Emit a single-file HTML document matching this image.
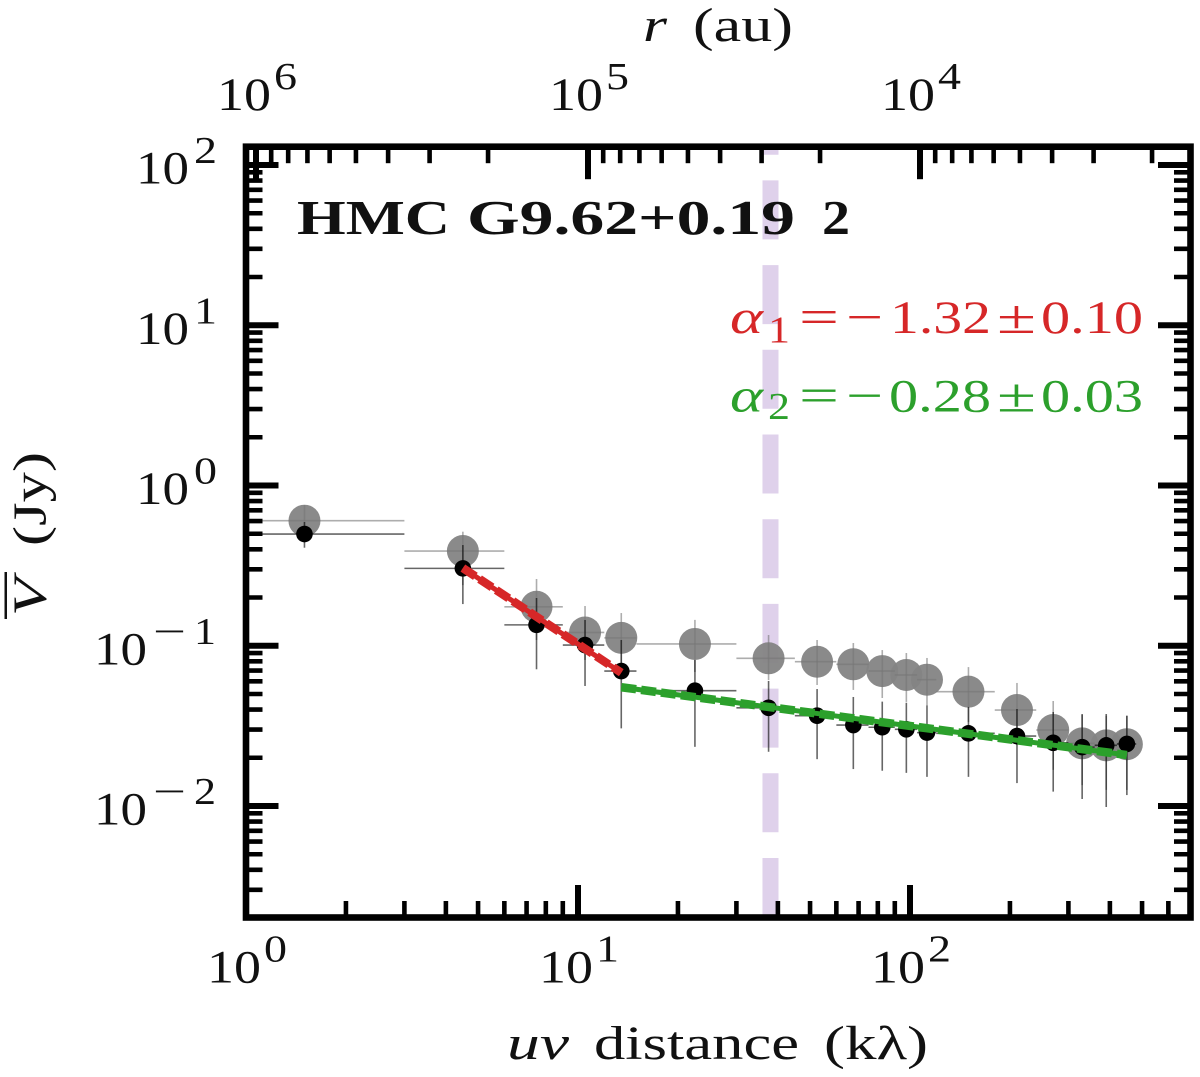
<!DOCTYPE html>
<html lang="en">
<head>
<meta charset="utf-8">
<title>HMC G9.62+0.19 2 visibility profile</title>
<style>
html,body{margin:0;padding:0;background:#fff;width:1200px;height:1077px;overflow:hidden}
svg{display:block}
text{font-family:"Liberation Serif","DejaVu Serif",serif;fill:#111;stroke:currentColor;stroke-width:0}
</style>
</head>
<body>
<svg id="chart" xmlns="http://www.w3.org/2000/svg" width="1200" height="1077" viewBox="0 0 1200 1077">
  <defs><clipPath id="plot-clip"><rect x="246" y="146.7" width="944.5" height="770.8"/></clipPath></defs>
  <g id="layer-ref" clip-path="url(#plot-clip)"></g>
  <g id="layer-gray"></g>
  <g id="layer-black"></g>
  <g id="layer-fit"></g>
  <g id="layer-ticks"></g>
  <g id="layer-labels"></g>
  <rect x="246" y="146.7" width="944.5" height="770.8" fill="none" stroke="#000" stroke-width="6.6"/>

  <text y="234" font-size="49" font-weight="bold" fill="#111"><tspan x="297" textLength="153" lengthAdjust="spacingAndGlyphs">HMC</tspan><tspan x="467" textLength="328" lengthAdjust="spacingAndGlyphs">G9.62+0.19</tspan><tspan x="822" textLength="28" lengthAdjust="spacingAndGlyphs">2</tspan></text>

  <g>
    <text style="fill:#d62728" x="730" y="333" font-size="48" font-style="italic" textLength="33" lengthAdjust="spacingAndGlyphs">α</text>
    <text style="fill:#d62728" x="768" y="342.7" font-size="38" textLength="22" lengthAdjust="spacingAndGlyphs">1</text>
    <text style="fill:#d62728" x="799" y="333" font-size="48" textLength="40" lengthAdjust="spacingAndGlyphs">=</text>
    <text style="fill:#d62728" x="846" y="333" font-size="48" textLength="37" lengthAdjust="spacingAndGlyphs">−</text>
    <text style="fill:#d62728" x="890" y="333" font-size="47" textLength="101" lengthAdjust="spacingAndGlyphs">1.32</text>
    <text style="fill:#d62728" x="997" y="333" font-size="48" textLength="39" lengthAdjust="spacingAndGlyphs">±</text>
    <text style="fill:#d62728" x="1041" y="333" font-size="47" textLength="102" lengthAdjust="spacingAndGlyphs">0.10</text>
  </g>
  <g>
    <text style="fill:#2ca02c" x="730" y="411.7" font-size="48" font-style="italic" textLength="33" lengthAdjust="spacingAndGlyphs">α</text>
    <text style="fill:#2ca02c" x="768" y="419" font-size="38" textLength="22" lengthAdjust="spacingAndGlyphs">2</text>
    <text style="fill:#2ca02c" x="799" y="411.7" font-size="48" textLength="40" lengthAdjust="spacingAndGlyphs">=</text>
    <text style="fill:#2ca02c" x="846" y="411.7" font-size="48" textLength="37" lengthAdjust="spacingAndGlyphs">−</text>
    <text style="fill:#2ca02c" x="889" y="411.7" font-size="47" textLength="102" lengthAdjust="spacingAndGlyphs">0.28</text>
    <text style="fill:#2ca02c" x="997" y="411.7" font-size="48" textLength="39" lengthAdjust="spacingAndGlyphs">±</text>
    <text style="fill:#2ca02c" x="1041" y="411.7" font-size="47" textLength="102" lengthAdjust="spacingAndGlyphs">0.03</text>
  </g>

  <text y="41" font-size="48"><tspan x="643" font-style="italic" textLength="24" lengthAdjust="spacingAndGlyphs">r</tspan><tspan x="693" textLength="100" lengthAdjust="spacingAndGlyphs">(au)</tspan></text>
  <text y="1059" font-size="48"><tspan x="507" font-style="italic" textLength="62" lengthAdjust="spacingAndGlyphs">uv</tspan><tspan x="594" textLength="205" lengthAdjust="spacingAndGlyphs">distance</tspan><tspan x="824" textLength="104" lengthAdjust="spacingAndGlyphs">(kλ)</tspan></text>
  <g>
    <text transform="translate(46,616) rotate(-90)" font-size="48" x="0" y="0" textLength="38" lengthAdjust="spacingAndGlyphs" font-style="italic">V</text>
    <rect x="4.5" y="572" width="2.5" height="47" fill="#111"/>
    <text transform="translate(46,546) rotate(-90)" font-size="48" x="0" y="0" textLength="94" lengthAdjust="spacingAndGlyphs">(Jy)</text>
  </g>
</svg>
<script>
// x values (kλ)
const uvDistance = [1.5, 4.5, 7.5, 10.5, 13.5, 22.5, 37.5, 52.5, 67.5, 82.5, 97.5, 112.5, 150, 210, 270, 330, 390, 450];
const binLow  = [1, 3, 6, 9, 12, 15, 30, 45, 60, 75, 90, 105, 120, 180, 240, 300, 360, 420];
const binHigh = [3, 6, 9, 12, 15, 30, 45, 60, 75, 90, 105, 120, 180, 240, 300, 360, 420, 480];
// black series (Jy)
const blackValues = [0.498, 0.304, 0.135, 0.101, 0.0695, 0.0524, 0.041, 0.0366, 0.032, 0.031, 0.0301, 0.0287, 0.0284, 0.0273, 0.0248, 0.0233, 0.0239, 0.0244];
const blackLower  = [0.409, 0.182, 0.0713, 0.0561, 0.0305, 0.0234, 0.0218, 0.0196, 0.017, 0.0166, 0.0161, 0.0152, 0.0152, 0.0139, 0.0123, 0.01106, 0.00986, 0.0117];
const blackUpper  = [0.592, 0.425, 0.1986, 0.1448, 0.1086, 0.0815, 0.0603, 0.0537, 0.0479, 0.0448, 0.0441, 0.0423, 0.0415, 0.0403, 0.0386, 0.0375, 0.0375, 0.0366];
// gray series (Jy)
const grayValues = [0.603, 0.39, 0.175, 0.121, 0.112, 0.1026, 0.0835, 0.0795, 0.0766, 0.0695, 0.0657, 0.0614, 0.0517, 0.0397, 0.0298, 0.0246, 0.0239, 0.0243];
const grayLower  = [0.457, 0.239, 0.1086, 0.0815, 0.0759, 0.0686, 0.0611, 0.0569, 0.053, 0.0472, 0.0446, 0.0421, 0.0334, 0.024, 0.0168, 0.0135, 0.0126, 0.0126];
const grayUpper  = [0.755, 0.515, 0.261, 0.177, 0.16, 0.145, 0.1167, 0.1086, 0.104, 0.094, 0.0901, 0.0839, 0.0736, 0.0586, 0.0452, 0.037, 0.0366, 0.0366];
// fits
const redFitX = [4.5, 13.5];
const redFitY = [0.3055, 0.0679];
const greenFitX = [13.5, 450];
const greenFitY = [0.0551, 0.0208];
// reference
const referenceUv = [38];
// ticks
const xTickExponents = [0, 1, 2];
const yTickExponents = [2, 1, 0, -1, -2];
const topTickExponents = [6, 5, 4];
const minorMultipliers = [2, 3, 4, 5, 6, 7, 8, 9];

const SVGNS = 'http://www.w3.org/2000/svg';
const X0 = 246, XDEC = 332, Y0 = 485.5, YDEC = 160.25, RX = 256;
const LEFT = 246, RIGHT = 1190.5, TOP = 146.7, BOTTOM = 917.5;
const sx = v => X0 + XDEC * Math.log10(v);
const sy = v => Y0 - YDEC * Math.log10(v);
const sr = v => RX + XDEC * (6 - Math.log10(v));

function mk(tag, attrs, parent) {
  const el = document.createElementNS(SVGNS, tag);
  for (const k in attrs) el.setAttribute(k, attrs[k]);
  parent.appendChild(el);
  return el;
}
const lRef = document.getElementById('layer-ref');
const lGray = document.getElementById('layer-gray');
const lBlack = document.getElementById('layer-black');
const lFit = document.getElementById('layer-fit');
const lTicks = document.getElementById('layer-ticks');
const lLabels = document.getElementById('layer-labels');

// reference line
referenceUv.forEach(v => {
  const ref = mk('line', {x1: sx(v), x2: sx(v), y1: TOP, y2: BOTTOM, stroke: '#9467bd', 'stroke-opacity': 0.3, 'stroke-width': 16, 'stroke-dasharray': '59 25.7', 'stroke-dashoffset': 51}, lRef);
  
  
});

// series
function drawSeries(values, lower, upper, layer, r, fill, fillOpacity, errStroke, errOpacity, label) {
  values.forEach((v, i) => {
    const dot = mk('circle', {cx: sx(uvDistance[i]), cy: sy(v), r: r, fill: fill, 'fill-opacity': fillOpacity}, layer);
    
    
  });
  values.forEach((v, i) => {
    const h = mk('line', {x1: sx(Math.max(binLow[i], 1)), x2: sx(binHigh[i]), y1: sy(v), y2: sy(v), stroke: errStroke, 'stroke-opacity': errOpacity, 'stroke-width': 1.6}, layer);
    
    
    const e = mk('line', {x1: sx(uvDistance[i]), x2: sx(uvDistance[i]), y1: sy(lower[i]), y2: sy(upper[i]), stroke: errStroke, 'stroke-opacity': errOpacity, 'stroke-width': 1.6}, layer);
    
    
  });
}
drawSeries(grayValues, grayLower, grayUpper, lGray, 16, '#848484', 0.95, '#777', 0.6, 'gray');
drawSeries(blackValues, blackLower, blackUpper, lBlack, 8.3, '#000', 1, '#000', 0.6, 'black');

// fits
function drawFit(xs, ys, color, label) {
  const a = {x1: sx(xs[0]), y1: sy(ys[0]), x2: sx(xs[1]), y2: sy(ys[1]), stroke: color};
  const solid = mk('line', Object.assign({'stroke-width': 5}, a), lFit);
  
  
  const dash = mk('line', Object.assign({'stroke-width': 8.5, 'stroke-dasharray': '15 5'}, a), lFit);
  
  
}
drawFit(redFitX, redFitY, '#d62728', 'red');
drawFit(greenFitX, greenFitY, '#2ca02c', 'green');

// ticks
function tick(x1, y1, x2, y2, w, name) {
  const t = mk('line', {x1: x1, y1: y1, x2: x2, y2: y2, stroke: '#000', 'stroke-width': w}, lTicks);
  
  
}
const MAJ = 32.5, MIN = 16.5, WMAJ = 6, WMIN = 4.6;
// bottom axis
[0, 1, 2].forEach(d => {
  if (d > 0) tick(sx(Math.pow(10, d)), BOTTOM, sx(Math.pow(10, d)), BOTTOM - MAJ, WMAJ, 'x-major-tick');
  minorMultipliers.forEach(m => {
    const x = sx(m * Math.pow(10, d));
    if (x > LEFT && x < RIGHT) tick(x, BOTTOM, x, BOTTOM - MIN, WMIN, 'x-minor-tick');
  });
});
// top axis
[3, 4, 5, 6].forEach(d => {
  if (d > 3) tick(sr(Math.pow(10, d)), TOP, sr(Math.pow(10, d)), TOP + MAJ, WMAJ, 'top-major-tick');
  minorMultipliers.forEach(m => {
    const x = sr(m * Math.pow(10, d));
    if (x > LEFT && x < RIGHT) tick(x, TOP, x, TOP + MIN, WMIN, 'top-minor-tick');
  });
});
// y axes
[-3, -2, -1, 0, 1, 2].forEach(d => {
  if (d > -3) {
    const y = sy(Math.pow(10, d));
    tick(LEFT, y, LEFT + MAJ, y, WMAJ, 'y-major-tick');
    tick(RIGHT, y, RIGHT - MAJ, y, WMAJ, 'y-major-tick-right');
  }
  minorMultipliers.forEach(m => {
    const y = sy(m * Math.pow(10, d));
    if (y > TOP && y < BOTTOM) {
      tick(LEFT, y, LEFT + MIN, y, WMIN, 'y-minor-tick');
      tick(RIGHT, y, RIGHT - MIN, y, WMIN, 'y-minor-tick-right');
    }
  });
});

// tick labels
function label(x, y, size, len, str, name) {
  const t = mk('text', {x: x, y: y, 'font-size': size, textLength: len, lengthAdjust: 'spacingAndGlyphs'}, lLabels);
  t.textContent = str;
  
  
}
xTickExponents.forEach(e => {
  const x = sx(Math.pow(10, e));
  label(x - 39, 982.7, 47, 54, '10', 'x-tick-label-base');
  label(x + 18, 961.7, 38, 23, String(e), 'x-tick-label-exponent');
});
topTickExponents.forEach(e => {
  const x = sr(Math.pow(10, e));
  label(x - 39, 110, 47, 54, '10', 'top-tick-label-base');
  label(x + 18, 89, 38, 23, String(e), 'top-tick-label-exponent');
});
yTickExponents.forEach(e => {
  const y = sy(Math.pow(10, e));
  if (e < 0) {
    label(94, y + 18.5, 47, 53, '10', 'y-tick-label-base');
    label(153, y - 2, 38, 33, '−', 'y-tick-label-minus');
    label(194, y - 2, 38, 22, String(-e), 'y-tick-label-exponent');
  } else {
    label(136, y + 18.5, 47, 53, '10', 'y-tick-label-base');
    label(194, y - 2, 38, 23, String(e), 'y-tick-label-exponent');
  }
});
</script>
</body>
</html>
